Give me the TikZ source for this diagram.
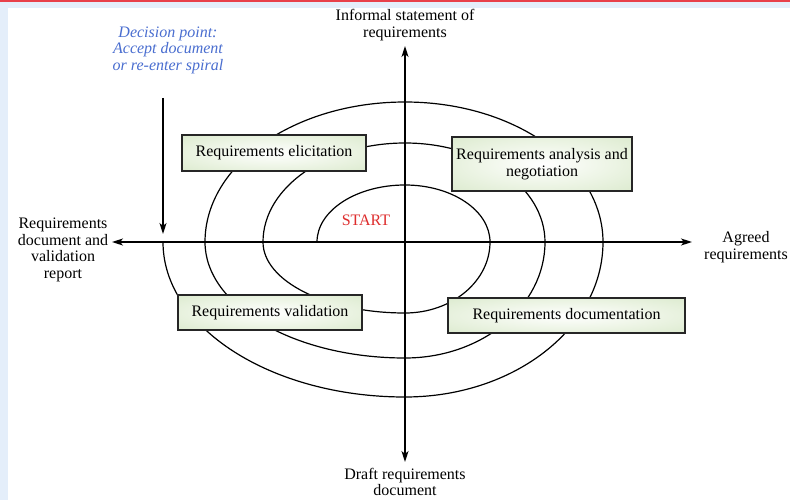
\documentclass[tikz,border=0pt]{standalone}
\usepackage{fontspec}
\setmainfont{Liberation Serif}
\usetikzlibrary{arrows.meta}
\definecolor{framebg}{RGB}{228,238,250}
\definecolor{topred}{RGB}{232,64,74}
\definecolor{boxgreen}{RGB}{206,226,188}
\definecolor{boxmid}{RGB}{236,244,228}
\definecolor{decblue}{RGB}{74,110,208}
\definecolor{startred}{RGB}{222,45,45}
\pgfdeclareradialshading{boxshade}{\pgfpoint{0bp}{0bp}}{color(0bp)=(white); color(20bp)=(boxmid); color(50bp)=(boxgreen); color(75bp)=(boxgreen)}
\newcommand\diagfont{\fontsize{16}{16.5}\selectfont}
\tikzset{
  procbox/.style={draw=black!85, line width=1.4pt, shading=boxshade, inner sep=0pt, align=center, font=\diagfont},
  spiralline/.style={line width=1.2pt, black},
  axisline/.style={line width=1.5pt, -{Stealth[length=11pt,width=7pt,inset=3pt]}},
  lab/.style={align=center, font=\diagfont, inner sep=0pt}
}
\begin{document}
\begin{tikzpicture}[x=1pt,y=-1pt]
\useasboundingbox (0,0) rectangle (790,500);
% frame
\fill[framebg] (0,0) rectangle (790,500);
\fill[topred] (0,0) rectangle (790,2.2);
\fill[white] (8,8) rectangle (790,500);
% coordinates
\coordinate (ctr) at (405,242);
\coordinate (axL) at (112,242);
\coordinate (axR) at (692,242);
\coordinate (axT) at (405,46);
\coordinate (axB) at (405,462);
\coordinate (decTop) at (163,98);
\coordinate (decEnd) at (163,234);
\coordinate (sp0) at (317,242);
% spiral
\draw[spiralline] (sp0)
  arc[start angle=180,end angle=270,x radius=88,y radius=57]
  arc[start angle=270,end angle=360,x radius=85,y radius=57]
  arc[start angle=0,end angle=90,x radius=85,y radius=71]
  arc[start angle=90,end angle=180,x radius=142,y radius=71]
  arc[start angle=180,end angle=270,x radius=142,y radius=99]
  arc[start angle=270,end angle=360,x radius=140,y radius=99]
  arc[start angle=0,end angle=90,x radius=140,y radius=116]
  arc[start angle=90,end angle=180,x radius=200,y radius=116]
  arc[start angle=180,end angle=270,x radius=200,y radius=140]
  arc[start angle=270,end angle=360,x radius=198,y radius=140]
  arc[start angle=0,end angle=90,x radius=198,y radius=155]
  arc[start angle=90,end angle=180,x radius=242,y radius=155];
% axes
\draw[axisline] (ctr) -- (axL);
\draw[axisline] (ctr) -- (axR);
\draw[axisline] (ctr) -- (axT);
\draw[axisline] (ctr) -- (axB);
\draw[axisline] (decTop) -- (decEnd);
% boxes
\node[procbox, minimum width=184pt, minimum height=36pt] (elic) at (274,153) {Requirements elicitation};
\node[procbox, minimum width=180pt, minimum height=54pt] (anal) at (542,164) {Requirements analysis and\\negotiation};
\node[procbox, minimum width=184pt, minimum height=35pt] (valid) at (270,312.5) {Requirements validation};
\node[procbox, minimum width=237pt, minimum height=35pt] (docu) at (566.5,315.5) {Requirements documentation};
% labels
\node[lab] (lTop) at (405,25) {Informal statement of\\requirements};
\node[lab, text=decblue, font=\diagfont\itshape] (lDec) at (168,50) {Decision point:\\Accept document\\or re-enter spiral};
\node[lab] (lLeft) at (63,250) {Requirements\\document and\\validation\\report};
\node[lab] (lRight) at (746,247) {Agreed\\requirements};
\node[lab] (lBot) at (405,482) {Draft requirements\\document};
\node[lab, text=startred] (lStart) at (366,220) {START};
\end{tikzpicture}
\end{document}
